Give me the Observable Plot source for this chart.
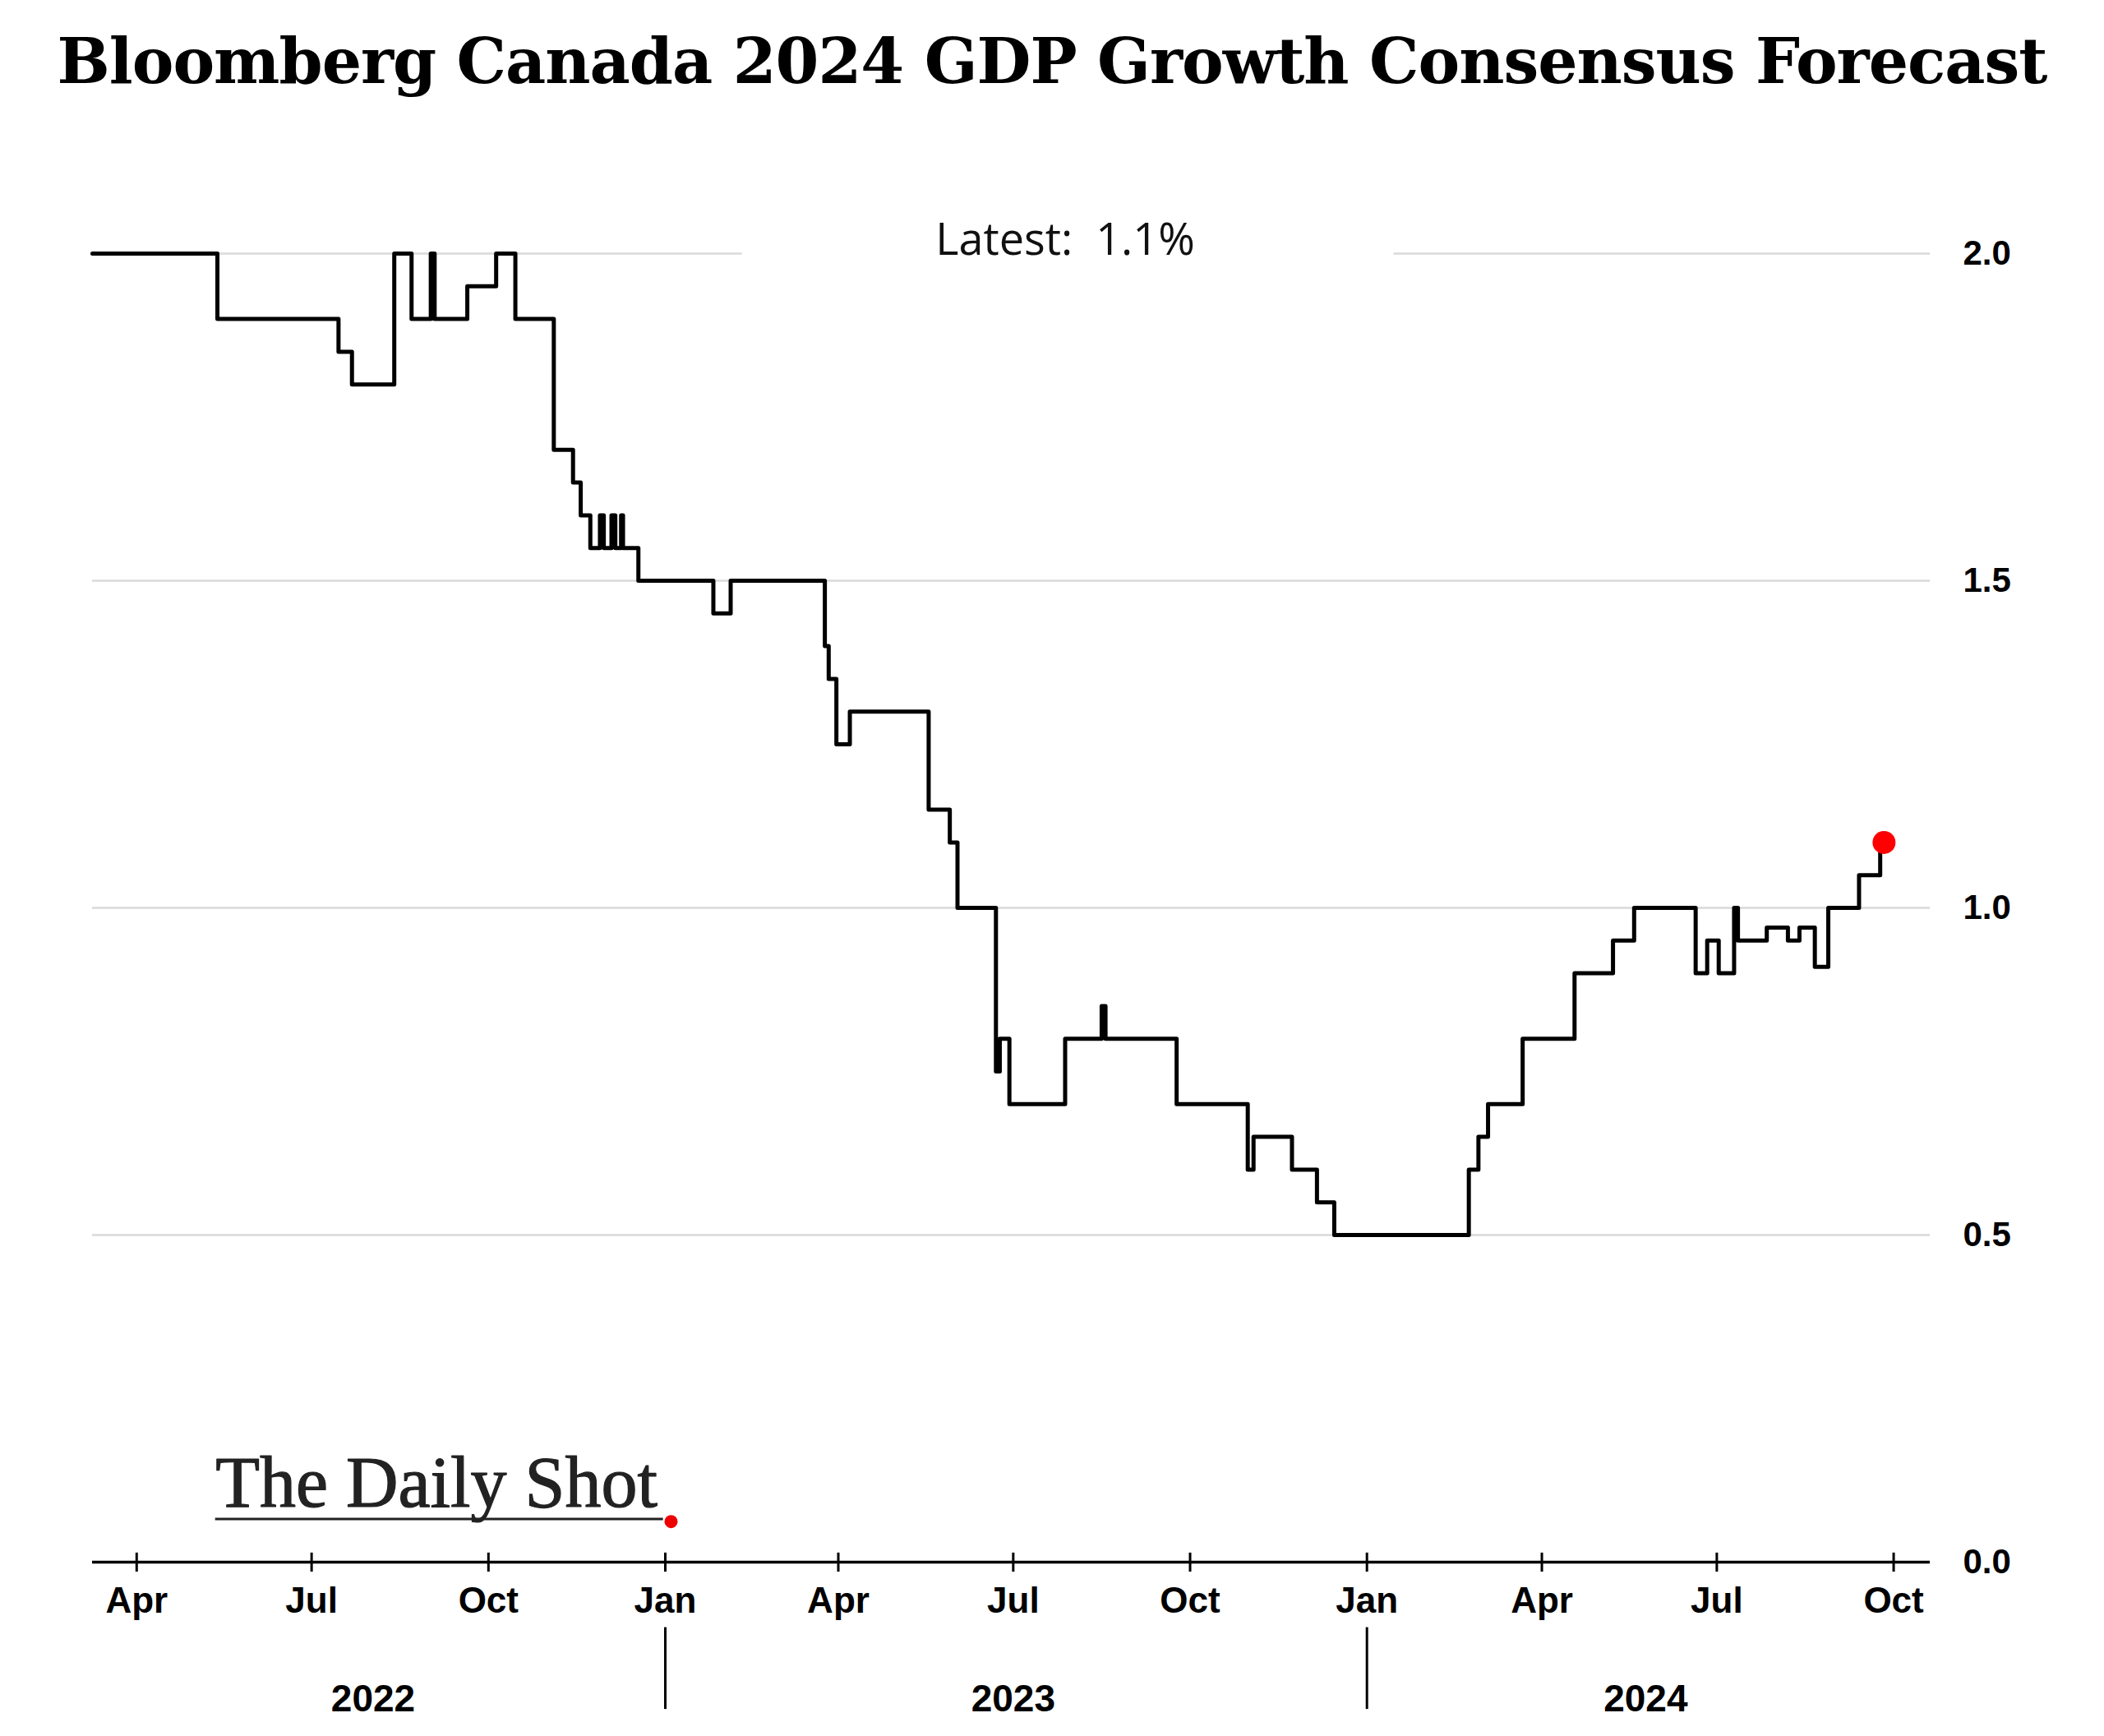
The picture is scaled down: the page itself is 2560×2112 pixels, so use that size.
<!DOCTYPE html>
<html><head><meta charset="utf-8">
<script src="https://cdn.jsdelivr.net/npm/d3@7"></script>
<script src="https://cdn.jsdelivr.net/npm/@observablehq/plot@0.6"></script>
<style>
body{margin:0;background:#fff;width:2560px;}
#title{height:150px;line-height:150px;text-align:center;font-family:"DejaVu Serif",serif;font-weight:bold;font-size:76px;color:#000;letter-spacing:-1px;}
</style></head><body>
<div id="title">Bloomberg Canada 2024 GDP Growth Consensus Forecast</div>
<div id="chart"></div>
<script>
const dates = ["2022-03-09","2022-05-13","2022-07-15","2022-07-22","2022-08-13","2022-08-22","2022-09-01","2022-09-03","2022-09-20","2022-10-05","2022-10-15","2022-11-04","2022-11-14","2022-11-18","2022-11-23","2022-11-28","2022-11-30","2022-12-04","2022-12-06","2022-12-09","2022-12-10","2022-12-18","2023-01-26","2023-02-04","2023-03-25","2023-03-27","2023-03-31","2023-04-07","2023-05-18","2023-05-29","2023-06-02","2023-06-22","2023-06-24","2023-06-29","2023-07-28","2023-08-16","2023-08-18","2023-09-24","2023-10-31","2023-11-03","2023-11-23","2023-12-06","2023-12-15","2024-02-23","2024-02-28","2024-03-04","2024-03-22","2024-04-18","2024-05-08","2024-05-19","2024-06-20","2024-06-26","2024-07-02","2024-07-10","2024-07-12","2024-07-27","2024-08-07","2024-08-13","2024-08-21","2024-08-28","2024-09-13","2024-09-24","2024-09-26"];
const values = [2.0,1.9,1.85,1.8,2.0,1.9,2.0,1.9,1.95,2.0,1.9,1.7,1.65,1.6,1.55,1.6,1.55,1.6,1.55,1.6,1.55,1.5,1.45,1.5,1.4,1.35,1.25,1.3,1.15,1.1,1.0,0.75,0.8,0.7,0.8,0.85,0.8,0.7,0.6,0.65,0.6,0.55,0.5,0.6,0.65,0.7,0.8,0.9,0.95,1.0,0.9,0.95,0.9,1.0,0.95,0.97,0.95,0.97,0.91,1.0,1.05,1.1,1.1];
const yTicks = [0,0.5,1.0,1.5,2.0];
const xTicks = ["2022-04-01","2022-07-01","2022-10-01","2023-01-01","2023-04-01","2023-07-01","2023-10-01","2024-01-01","2024-04-01","2024-07-01","2024-10-01"];
const yearLabels = ["2022","2023","2024"];
const yearCenters = ["2022-08-02","2023-07-01","2024-05-25"];
const yearSeps = ["2023-01-01","2024-01-01"];
const latestLabel = "Latest:  1.1%";

const D = s => new Date(s + "T00:00:00Z");
const data = dates.map((d,i)=>({date:D(d), value:values[i]}));
const last = data[data.length-1];
const xDomain = [D("2022-03-09"), D("2024-10-20")];
const gridSegs = [
  {x1:xDomain[0], x2:D("2023-02-10"), y:2.0},
  {x1:D("2024-01-15"), x2:xDomain[1], y:2.0},
  ...[0.5,1.0,1.5].map(v=>({x1:xDomain[0],x2:xDomain[1],y:v}))
];
const monthName = d => ["Jan","Feb","Mar","Apr","May","Jun","Jul","Aug","Sep","Oct","Nov","Dec"][d.getUTCMonth()];

const chart = Plot.plot({
  width:2560, height:1962,
  marginTop:158, marginBottom:212, marginLeft:112, marginRight:212,
  style:{fontFamily:"Liberation Sans, Arial, sans-serif", background:"#fff"},
  x:{type:"utc", domain:xDomain},
  y:{domain:[0,2.0]},
  marks:[
    Plot.ruleY(gridSegs,{x1:"x1",x2:"x2",y:"y",stroke:"#d9d9d9",strokeWidth:2.5}),
    Plot.axisY(yTicks,{anchor:"right",tickSize:0,tickPadding:40,tickFormat:d=>d.toFixed(1),fontSize:42,fontWeight:"bold",fill:"#000"}),
    Plot.axisX(xTicks.map(D),{tickSize:12,tickPadding:18,tickFormat:monthName,fontSize:44,fontWeight:"bold",stroke:"#000",strokeWidth:3,fill:"#000"}),
    Plot.ruleY([0],{stroke:"#000",strokeWidth:3.5}),
    Plot.ruleX(xTicks.map(D),{y1:0,y2:0.014,stroke:"#000",strokeWidth:3}),
    Plot.ruleX(yearSeps.map(D),{y1:-0.1,y2:-0.225,stroke:"#000",strokeWidth:3}),
    Plot.text(yearLabels,{x:(d,i)=>D(yearCenters[i]),y:-0.21,text:d=>d,fontSize:46,fontWeight:"bold",fill:"#000",clip:false}),
    Plot.line(data,{x:"date",y:"value",curve:"step-after",stroke:"#000",strokeWidth:5}),
    Plot.dot([last],{x:"date",y:"value",r:14,fill:"#ff0000",stroke:"none"}),
    Plot.text([latestLabel],{x:D("2023-07-28"),y:2.0,dy:-16,text:d=>d,fontSize:54,fill:"#111",fontFamily:"Open Sans, DejaVu Sans, sans-serif"}),
    Plot.text(["The Daily Shot"],{x:D("2022-05-12"),y:0.12,text:d=>d,textAnchor:"start",fontSize:88,fontFamily:"Liberation Serif, serif",fill:"#222",letterSpacing:"-3px",stroke:"#222",strokeWidth:1.2}),
    Plot.ruleY([0.066],{x1:D("2022-05-12"),x2:D("2022-12-31"),stroke:"#222",strokeWidth:3}),
    Plot.dot([0],{x:D("2023-01-04"),y:0.062,r:8,fill:"#e00",stroke:"none"})
  ]
});
document.getElementById("chart").appendChild(chart);
</script></body></html>
